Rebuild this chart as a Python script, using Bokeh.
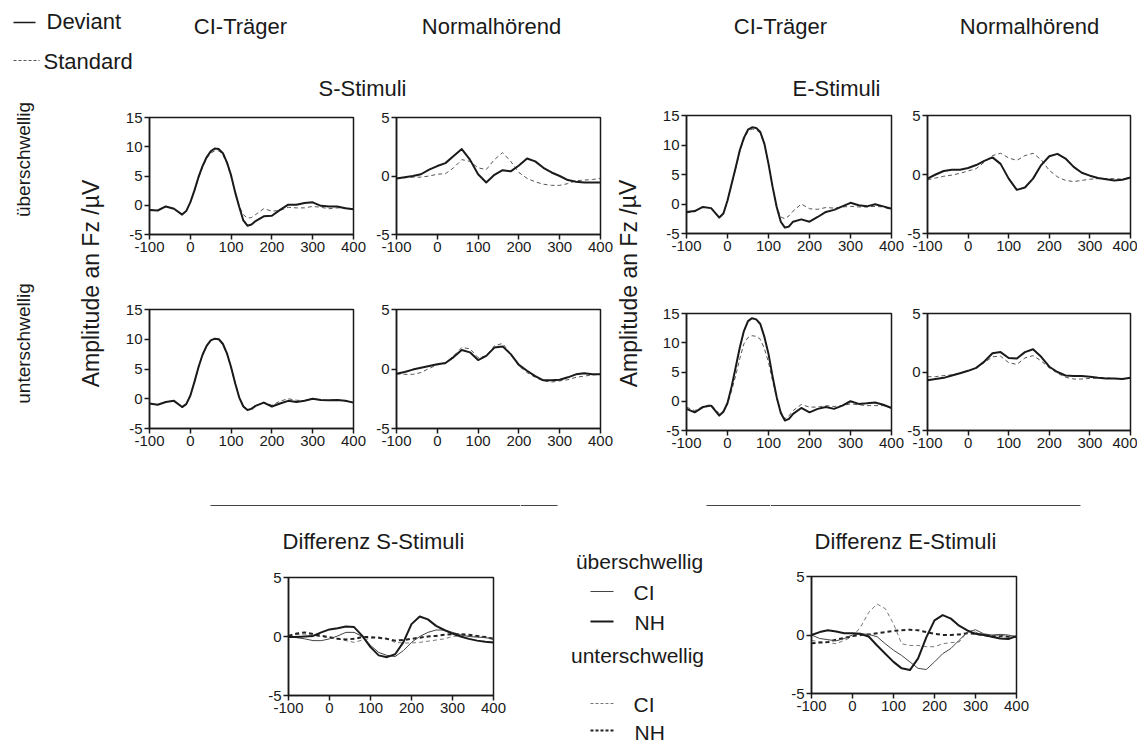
import math
from bokeh.plotting import figure
from bokeh.layouts import row, column
from bokeh.models import Range1d, FixedTicker
from bokeh.core.properties import value
from bokeh.embed import file_html
from bokeh.resources import INLINE

# ---------------- data ----------------
# time axis (ms) for the normal-hearing panels and the difference panels
t_ms = [-100, -80, -60, -40, -20, 0, 20, 40, 60, 80, 100, 120, 140, 160, 180,
        200, 220, 240, 260, 280, 300, 320, 340, 360, 380, 400]
# denser time axis (ms) for the CI panels with the large peak
t_ci = [-100, -80, -60, -40, -20, -10, 0, 10, 20, 30, 40, 50, 60, 70, 80, 90, 100,
        110, 120, 130, 140, 150, 160, 180, 200, 220, 240, 260, 280, 300, 320, 340,
        360, 380, 400]
x_ticks = [-100, 0, 100, 200, 300, 400]
x_tick_labels = ["-100", "0", "100", "200", "300", "400"]
y_ticks_ci = [-5, 0, 5, 10, 15]
y_ticks_nh = [-5, 0, 5]

# S-Stimuli, überschwellig
ci_s_sup_dev = [-0.8, -0.9, -0.2, -0.6, -1.6, -1.0, 0.5, 2.5, 4.8, 6.7, 8.2, 9.2, 9.7, 9.6, 8.9, 7.3, 5.1,
                2.2, -0.3, -2.6, -3.5, -3.3, -2.7, -1.9, -1.8, -0.8, 0.1, 0.1, 0.4, 0.5, -0.1, -0.2,
                -0.2, -0.5, -0.7]
ci_s_sup_std = [-0.8, -0.9, -0.2, -0.6, -1.6, -1.0, 0.5, 2.4, 4.6, 6.5, 8.0, 8.9, 9.3, 9.3, 8.6, 7.1, 5.0,
                2.2, -0.2, -1.6, -2.2, -2.1, -1.6, -0.6, -1.0, -0.9, -0.35, -0.45, -0.45, -0.2, -0.35,
                -0.6, -0.45, -0.45, -0.7]
nh_s_sup_dev = [-0.22, -0.1, 0.0, 0.15, 0.55, 0.85, 1.1, 1.7, 2.3, 1.4, 0.15, -0.55, 0.1, 0.5, 0.4, 0.9, 1.5, 1.25, 0.7, 0.3, 0.0, -0.35, -0.5, -0.55, -0.55, -0.55]
nh_s_sup_std = [-0.22, -0.15, -0.1, -0.1, 0.0, 0.15, 0.2, 0.7, 1.4, 1.25, 0.7, 0.55, 1.4, 2.0, 1.25, 0.3, -0.2, -0.5, -0.7, -0.8, -0.8, -0.65, -0.4, -0.35, -0.3, -0.2]
# E-Stimuli, überschwellig
ci_e_sup_dev = [-1.35, -1.2, -0.5, -0.7, -2.3, -1.6, 0.6, 3.4, 6.2, 9.1, 11.2, 12.6, 13.0, 12.9, 12.2, 10.2, 6.8,
                2.9, -0.5, -3.0, -4.0, -3.8, -3.0, -2.6, -3.0, -2.2, -1.35, -1.0, -0.4, 0.2, -0.2, -0.4,
                -0.05, -0.4, -0.8]
ci_e_sup_std = [-1.5, -1.3, -0.5, -0.7, -2.3, -1.6, 0.5, 3.3, 6.0, 8.9, 11.0, 12.3, 12.7, 12.6, 12.0, 10.1, 6.8,
                2.9, -0.6, -2.2, -2.5, -2.0, -1.2, 0.0, -0.8, -0.9, -0.6, -0.7, -0.5, -0.4, -0.5, -0.5,
                -0.4, -0.5, -1.0]
nh_e_sup_dev = [-0.35, 0.0, 0.3, 0.4, 0.4, 0.55, 0.8, 1.15, 1.45, 0.9, -0.35, -1.3, -1.1, -0.35, 0.8, 1.55, 1.75, 1.35, 0.65, 0.15, -0.1, -0.3, -0.4, -0.5, -0.45, -0.25]
nh_e_sup_std = [-0.45, -0.3, -0.15, -0.05, 0.1, 0.3, 0.5, 1.05, 1.6, 1.8, 1.4, 1.2, 1.6, 1.8, 1.25, 0.35, -0.2, -0.5, -0.6, -0.5, -0.4, -0.35, -0.35, -0.35, -0.4, -0.25]
# S-Stimuli, unterschwellig
ci_s_sub_dev = [-0.8, -1.0, -0.55, -0.35, -1.4, -0.9, 0.5, 2.8, 5.3, 7.4, 8.9, 9.8, 10.1, 10.0, 9.2, 7.6, 5.3,
                2.6, 0.2, -1.3, -1.9, -1.7, -1.2, -0.65, -1.3, -0.8, -0.35, -0.55, -0.35, 0.0, -0.2, -0.25,
                -0.2, -0.35, -0.65]
ci_s_sub_std = [-0.8, -1.0, -0.55, -0.35, -1.4, -0.9, 0.5, 2.7, 5.2, 7.3, 8.8, 9.7, 10.0, 9.9, 9.1, 7.5, 5.2,
                2.6, 0.2, -1.2, -1.8, -1.6, -1.2, -0.6, -1.1, -0.4, 0.0, -0.25, -0.3, 0.0, -0.2, -0.25,
                -0.2, -0.35, -0.65]
nh_s_sub_dev = [-0.4, -0.25, -0.05, 0.1, 0.25, 0.4, 0.5, 1.0, 1.6, 1.4, 0.75, 1.1, 1.8, 1.9, 1.25, 0.35, -0.15, -0.6, -0.95, -0.95, -0.9, -0.7, -0.45, -0.35, -0.45, -0.45]
nh_s_sub_std = [-0.4, -0.45, -0.45, -0.3, 0.05, 0.35, 0.45, 1.1, 1.8, 1.7, 0.95, 1.1, 1.95, 2.15, 1.25, 0.25, -0.3, -0.7, -1.0, -1.1, -1.0, -0.9, -0.7, -0.6, -0.5, -0.45]
# E-Stimuli, unterschwellig
ci_e_sub_dev = [-1.3, -1.9, -1.0, -0.75, -2.45, -1.8, -0.3, 2.5, 5.8, 9.2, 12.0, 13.7, 14.2, 14.0, 13.2, 11.0, 8.1,
                4.2, 0.7, -2.0, -3.3, -3.0, -2.15, -1.15, -1.9, -1.3, -1.0, -1.3, -0.75, 0.0, -0.45, -0.35,
                -0.2, -0.6, -1.15]
ci_e_sub_std = [-1.0, -1.6, -0.9, -0.55, -2.15, -1.7, -0.5, 1.8, 4.4, 7.3, 9.8, 10.9, 11.2, 11.1, 10.6, 9.0, 6.65,
                3.5, 0.5, -1.8, -3.0, -2.5, -1.6, -0.55, -1.0, -1.0, -0.75, -0.9, -0.75, -0.45, -0.6, -0.75,
                -0.75, -0.75, -1.15]
nh_e_sub_dev = [-0.7, -0.6, -0.5, -0.3, -0.1, 0.1, 0.35, 0.9, 1.6, 1.7, 1.2, 1.15, 1.7, 1.95, 1.3, 0.45, 0.0, -0.3, -0.35, -0.35, -0.4, -0.5, -0.55, -0.55, -0.6, -0.5]
nh_e_sub_std = [-0.4, -0.4, -0.3, -0.25, -0.1, 0.1, 0.35, 0.8, 1.3, 1.35, 0.8, 0.65, 1.2, 1.4, 0.95, 0.35, -0.1, -0.45, -0.6, -0.6, -0.55, -0.5, -0.5, -0.55, -0.6, -0.5]
# Differences (Deviant - Standard)
diff_s_ci_sup = [-0.05, -0.1, -0.2, -0.35, -0.35, -0.2, 0.05, 0.35, 0.35, 0.0, -0.75, -1.35, -1.6, -1.7, -1.2, -0.5, 0.0, 0.35, 0.55, 0.55, 0.35, 0.15, 0.0, -0.05, -0.1, -0.2]
diff_s_nh_sup = [-0.05, -0.05, 0.0, 0.05, 0.35, 0.6, 0.7, 0.85, 0.8, 0.05, -0.9, -1.6, -1.75, -1.5, -0.5, 1.05, 1.7, 1.45, 0.9, 0.55, 0.25, 0.0, -0.2, -0.35, -0.45, -0.5]
diff_s_ci_sub = [0.05, 0.15, 0.2, 0.05, 0.0, -0.1, -0.2, -0.35, -0.5, -0.3, -0.15, -0.05, -0.2, -0.5, -0.55, -0.55, -0.5, -0.4, -0.3, -0.2, 0.0, 0.05, 0.05, 0.0, -0.05, -0.15]
diff_s_nh_sub = [0.05, 0.25, 0.35, 0.2, 0.05, -0.05, -0.2, -0.25, -0.2, -0.05, -0.05, -0.1, -0.2, -0.35, -0.3, -0.2, -0.1, 0.0, 0.05, 0.15, 0.2, 0.2, 0.15, 0.05, -0.05, -0.2]
diff_e_ci_sup = [0.0, -0.3, -0.4, -0.5, -0.3, 0.0, 0.1, 0.05, -0.15, -0.75, -1.3, -1.75, -2.3, -2.85, -2.95, -2.3, -1.6, -1.15, -0.45, 0.25, 0.45, 0.1, 0.0, 0.05, 0.0, -0.15]
diff_e_nh_sup = [0.0, 0.25, 0.4, 0.3, 0.15, 0.15, 0.1, -0.15, -0.9, -1.6, -2.3, -2.85, -3.0, -2.0, -0.2, 1.25, 1.7, 1.4, 0.8, 0.4, 0.1, 0.0, -0.15, -0.3, -0.35, -0.1]
diff_e_ci_sub = [-0.45, -0.6, -0.65, -0.75, -0.45, -0.15, 0.7, 1.95, 2.65, 2.25, 0.95, -0.75, -0.9, -0.9, -1.0, -1.0, -0.75, -0.65, -0.6, 0.25, 0.25, 0.0, -0.15, 0.0, -0.15, -0.15]
diff_e_nh_sub = [-0.7, -0.65, -0.6, -0.4, -0.25, -0.1, 0.0, 0.05, 0.15, 0.25, 0.35, 0.4, 0.45, 0.4, 0.25, 0.1, 0.0, 0.0, 0.05, 0.15, 0.1, 0.0, -0.1, -0.1, -0.15, -0.15]

# ---------------- style ----------------
FONT = "Liberation Sans"
INK = "#1a1a1a"
TICK_FS = "15px"


def panel(w, h, bl, br, bt, bb, ylo, yhi, yticks):
    p = figure(width=w, height=h, x_range=Range1d(-100, 400), y_range=Range1d(ylo, yhi),
               output_backend="svg", toolbar_location=None,
               min_border_left=bl, min_border_right=br, min_border_top=bt, min_border_bottom=bb)
    p.xaxis.ticker = FixedTicker(ticks=x_ticks)
    p.xaxis.major_label_overrides = dict(zip(x_ticks, x_tick_labels))
    p.yaxis.ticker = FixedTicker(ticks=yticks)
    p.yaxis.major_label_overrides = {v: str(v) for v in yticks}
    for ax in (p.xaxis[0], p.yaxis[0]):
        ax.major_tick_out = 5
        ax.major_tick_in = 0
        ax.minor_tick_line_color = None
        ax.major_label_text_font = FONT
        ax.major_label_text_font_size = TICK_FS
        ax.major_label_text_color = INK
        ax.axis_line_color = INK
        ax.axis_line_width = 1.5
        ax.major_tick_line_color = INK
        ax.major_tick_line_width = 1.5
        ax.major_label_standoff = 2
    p.xgrid.visible = False
    p.ygrid.visible = False
    p.outline_line_color = INK
    p.outline_line_width = 1.5
    p.outline_line_alpha = 1.0
    p.background_fill_color = "white"
    p.border_fill_color = "white"
    return p


def erp(w, h, bl, br, bt, bb, ylo, yhi, yticks, t, dev, std):
    p = panel(w, h, bl, br, bt, bb, ylo, yhi, yticks)
    p.line(t, std, line_color="#555555", line_width=1, line_dash="4 3")
    p.line(t, dev, line_color=INK, line_width=2, line_join="round")
    return p


def diffplot(w, h, bl, br, bt, bb, ci_sup, nh_sup, ci_sub, nh_sub):
    p = panel(w, h, bl, br, bt, bb, -5, 5, y_ticks_nh)
    p.line(t_ms, ci_sub, line_color="#777777", line_width=1, line_dash="4 3")
    p.line(t_ms, nh_sub, line_color="#222222", line_width=2, line_dash="4 3")
    p.line(t_ms, ci_sup, line_color="#444444", line_width=1)
    p.line(t_ms, nh_sup, line_color=INK, line_width=2, line_join="round")
    return p


def canvas(w, h, flip=True):
    p = figure(width=w, height=h, x_range=Range1d(0, w),
               y_range=Range1d(h, 0) if flip else Range1d(0, h),
               output_backend="svg", toolbar_location=None,
               x_axis_location=None, y_axis_location=None, min_border=0)
    p.grid.visible = False
    p.outline_line_color = None
    p.background_fill_color = "white"
    p.border_fill_color = "white"
    return p


def txt(p, x, y, s, size, align="left", angle=0.0):
    p.text(x=[x], y=[y], text=[s], angle=[angle], text_font=value(FONT),
           text_font_size=value(size), text_align=align, text_baseline="middle",
           text_color=INK)


# ---------------- header (y 0..102) ----------------
header = canvas(1137, 102)
header.segment(x0=[13], y0=[22], x1=[35], y1=[22], line_color=INK, line_width=1.5)
header.segment(x0=[13], y0=[60], x1=[39], y1=[60], line_color="#555555", line_width=1, line_dash="3 2")
txt(header, 46, 21, "Deviant", "22px")
txt(header, 43, 61, "Standard", "22px")
txt(header, 240, 26, "CI-Träger", "22px", "center")
txt(header, 491, 26, "Normalhörend", "22px", "center")
txt(header, 780, 26, "CI-Träger", "22px", "center")
txt(header, 1029, 26, "Normalhörend", "22px", "center")
txt(header, 362, 88, "S-Stimuli", "22px", "center")
txt(header, 836, 88, "E-Stimuli", "22px", "center")

# ---------------- left labels (y 102..470) ----------------
leftlab = canvas(120, 368, flip=False)
txt(leftlab, 23, 311, "überschwellig", "19px", "center", math.pi / 2)
txt(leftlab, 23, 127, "unterschwellig", "19px", "center", math.pi / 2)
txt(leftlab, 90, 187, "Amplitude an Fz /µV", "23px", "center", math.pi / 2)

midlab = canvas(45, 368, flip=False)
txt(midlab, 14, 187, "Amplitude an Fz /µV", "23px", "center", math.pi / 2)

# ---------------- panels ----------------
p1 = erp(249, 158, 29, 16, 15, 26, -5, 15, y_ticks_ci, t_ci, ci_s_sup_dev, ci_s_sup_std)
p2 = erp(245, 158, 27, 14, 14, 26, -5, 5, y_ticks_nh, t_ms, nh_s_sup_dev, nh_s_sup_std)
p5 = erp(249, 210, 29, 16, 49, 42, -5, 15, y_ticks_ci, t_ci, ci_s_sub_dev, ci_s_sub_std)
p6 = erp(245, 210, 27, 14, 49, 42, -5, 5, y_ticks_nh, t_ms, nh_s_sub_dev, nh_s_sub_std)
p3 = erp(245, 158, 27, 13, 13, 26, -5, 15, y_ticks_ci, t_ci, ci_e_sup_dev, ci_e_sup_std)
p4 = erp(233, 158, 21, 7, 13, 27, -5, 5, y_ticks_nh, t_ms, nh_e_sup_dev, nh_e_sup_std)
p7 = erp(245, 210, 27, 13, 53, 40, -5, 15, y_ticks_ci, t_ci, ci_e_sub_dev, ci_e_sub_std)
p8 = erp(233, 210, 21, 7, 53, 40, -5, 5, y_ticks_nh, t_ms, nh_e_sub_dev, nh_e_sub_std)

middle = row(leftlab, column(row(p1, p2), row(p5, p6)), midlab, column(row(p3, p4), row(p7, p8)))

# ---------------- bottom (y 470..744) ----------------
stripL = canvas(520, 86)
stripL.segment(x0=[210], y0=[35], x1=[520], y1=[35], line_color="#444444", line_width=1)
txt(stripL, 373, 71, "Differenz S-Stimuli", "22px", "center")
stripR = canvas(367, 86)
stripR.segment(x0=[0], y0=[35], x1=[310], y1=[35], line_color="#444444", line_width=1)
txt(stripR, 135, 71, "Differenz E-Stimuli", "22px", "center")

diffS = diffplot(520, 188, 288, 27, 21, 49, diff_s_ci_sup, diff_s_nh_sup, diff_s_ci_sub, diff_s_nh_sub)
diffE = diffplot(367, 188, 41, 121, 20, 51, diff_e_ci_sup, diff_e_nh_sup, diff_e_ci_sub, diff_e_nh_sub)

leg = canvas(250, 274)
leg.segment(x0=[0, 186], y0=[35, 35], x1=[37, 250], y1=[35, 35], line_color="#444444", line_width=1)
txt(leg, 119, 91, "überschwellig", "21px", "center")
leg.segment(x0=[70], y0=[121], x1=[93], y1=[121], line_color="#444444", line_width=1)
txt(leg, 113, 122, "CI", "21px")
leg.segment(x0=[70], y0=[151], x1=[93], y1=[151], line_color=INK, line_width=2)
txt(leg, 114, 152, "NH", "21px")
txt(leg, 117, 185, "unterschwellig", "21px", "center")
leg.segment(x0=[70], y0=[233], x1=[93], y1=[233], line_color="#777777", line_width=1, line_dash="3 2")
txt(leg, 113, 234, "CI", "21px")
leg.segment(x0=[70], y0=[260], x1=[93], y1=[260], line_color="#222222", line_width=2, line_dash="3 2")
txt(leg, 114, 262, "NH", "21px")

bottom = row(column(row(stripL), diffS), leg, column(row(stripR), diffE))

layout = column(header, middle, bottom)

open("out.html", "w").write(file_html(layout, INLINE, "ERP"))
